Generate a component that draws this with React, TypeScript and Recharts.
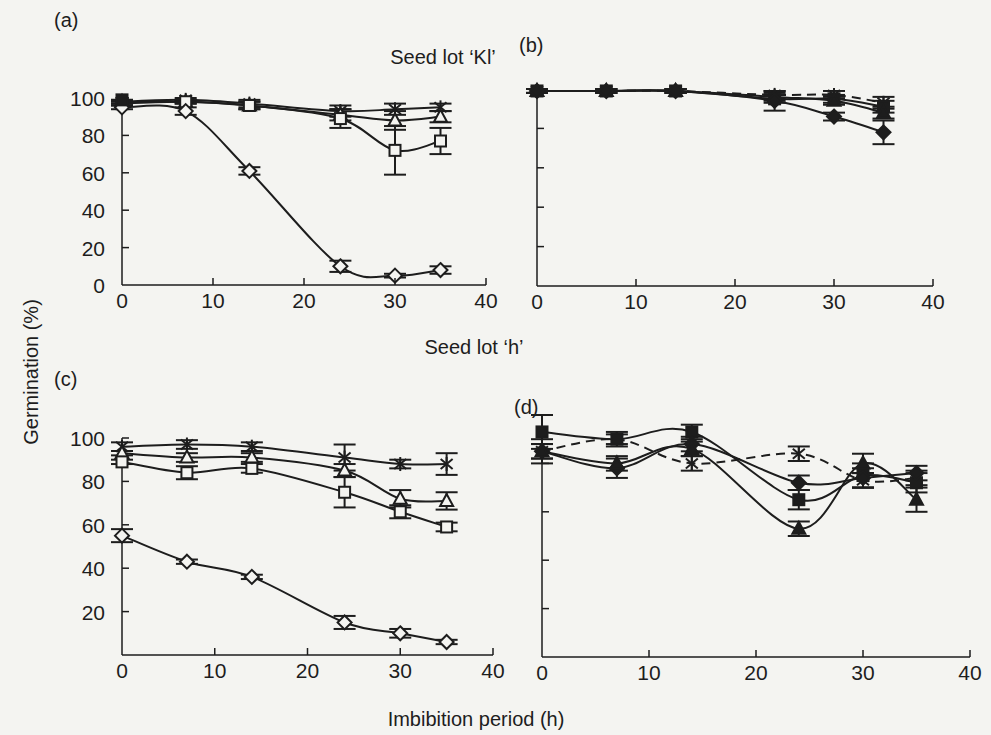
import { LineChart, Line, XAxis, YAxis, ErrorBar } from "recharts";

// Imbibition period (h) at which germination was scored
const HOURS = [0, 7, 14, 24, 30, 35];
const X_TICKS = [0, 10, 20, 30, 40];
const Y_TICKS = [0, 20, 40, 60, 80, 100];

// (a) seed lot 'Kl', open symbols
const A_CONTROL = [99, null, null, null, null, null];
const A_STAR = [98, 99, 97, 93, 94, 95];
const A_STAR_ERR = [1, 1, 2, 3, 3, 2];
const A_TRI = [98, 98, 96, 91, 88, 90];
const A_TRI_ERR = [1, 1, 2, 3, 5, 3];
const A_SQ = [97, 98, 96, 89, 72, 77];
const A_SQ_ERR = [1, 1, 2, 5, 13, 7];
const A_DIA = [95, 93, 61, 10, 5, 8];
const A_DIA_ERR = [1, 2, 2, 3, 1, 2];

// (b) seed lot 'Kl', filled symbols
const B_STAR = [99, 99, 99, 97, 97, 93];
const B_STAR_ERR = [1, 1, 1, 2, 2, 3];
const B_SQ = [99, 99, 99, 95, 95, 91];
const B_SQ_ERR = [1, 1, 1, 2, 2, 3];
const B_TRI = [99, 99, 99, 96, 94, 88];
const B_TRI_ERR = [1, 1, 1, 2, 2, 3];
const B_DIA = [99, 99, 99, 94, 86, 78];
const B_DIA_ERR = [1, 1, 1, 5, 2, 6];

// (c) seed lot 'h', open symbols
const C_STAR = [96, 97, 96, 91, 88, 88];
const C_STAR_ERR = [2, 2, 2, 6, 2, 5];
const C_TRI = [93, 91, 91, 85, 72, 71];
const C_TRI_ERR = [1, 2, 2, 3, 4, 4];
const C_SQ = [89, 84, 86, 75, 66, 59];
const C_SQ_ERR = [1, 3, 2, 7, 3, 2];
const C_DIA = [55, 43, 36, 15, 10, 6];
const C_DIA_ERR = [3, 1, 1, 3, 2, 1];

// (d) seed lot 'h', filled symbols
const D_SQ = [93, 90, 93, 65, 75, 72];
const D_SQ_ERR = [7, 3, 3, 4, 5, 4];
const D_DIA = [85, 78, 88, 72, 74, 76];
const D_DIA_ERR = [3, 4, 3, 3, 4, 3];
const D_TRI = [85, 80, 86, 53, 80, 65];
const D_TRI_ERR = [3, 3, 3, 3, 4, 5];
const D_STAR = [85, 90, 80, 84, 73, 74];
const D_STAR_ERR = [5, 2, 3, 3, 3, 3];

const INK = "#1d1d1d";
const PAPER = "#f4f4f1";
const FONT = "'Liberation Sans', Arial, Helvetica, sans-serif";

type Shape = "square" | "triangle" | "star" | "diamond";

type Series = {
  values: (number | null)[];
  errors?: number[];
  shape: Shape;
  filled: boolean;
  dashed?: boolean;
};

// spreadsheet-style smoothed line (Catmull-Rom through every point)
function smoothCurve(context: any) {
  let pts: [number, number][] = [];
  return {
    areaStart() {},
    areaEnd() {},
    lineStart() {
      pts = [];
    },
    point(x: number, y: number) {
      pts.push([x, y]);
    },
    lineEnd() {
      if (!pts.length) return;
      context.moveTo(pts[0][0], pts[0][1]);
      const t = 1 / 6;
      for (let i = 0; i < pts.length - 1; i++) {
        const p0 = pts[i - 1] || pts[i];
        const p1 = pts[i];
        const p2 = pts[i + 1];
        const p3 = pts[i + 2] || p2;
        context.bezierCurveTo(
          p1[0] + (p2[0] - p0[0]) * t,
          p1[1] + (p2[1] - p0[1]) * t,
          p2[0] - (p3[0] - p1[0]) * t,
          p2[1] - (p3[1] - p1[1]) * t,
          p2[0],
          p2[1]
        );
      }
    },
  };
}

function buildRows(series: Series[]) {
  return HOURS.map((h, i) => {
    const row: Record<string, number | null> = { h };
    series.forEach((s, k) => {
      row[`v${k}`] = s.values[i];
      row[`e${k}`] = s.errors ? s.errors[i] : null;
    });
    return row;
  });
}

function Marker({ cx, cy, shape, filled }: { cx: number; cy: number; shape: Shape; filled: boolean }) {
  const fill = filled ? INK : PAPER;
  const common = { stroke: INK, strokeWidth: 2, fill };
  if (shape === "square") {
    return <rect x={cx - 5.5} y={cy - 5.5} width={11} height={11} {...common} />;
  }
  if (shape === "triangle") {
    return <polygon points={`${cx},${cy - 7} ${cx + 6.5},${cy + 5} ${cx - 6.5},${cy + 5}`} {...common} />;
  }
  if (shape === "diamond") {
    return <polygon points={`${cx},${cy - 7} ${cx + 7},${cy} ${cx},${cy + 7} ${cx - 7},${cy}`} {...common} />;
  }
  return (
    <g stroke={INK} strokeWidth={2}>
      <line x1={cx} y1={cy - 7} x2={cx} y2={cy + 7} />
      <line x1={cx - 6} y1={cy - 5} x2={cx + 6} y2={cy + 5} />
      <line x1={cx - 6} y1={cy + 5} x2={cx + 6} y2={cy - 5} />
    </g>
  );
}

function XTick(props: any) {
  const { x, y, payload } = props;
  return (
    <g>
      {payload.value !== 0 && <line x1={x} y1={y} x2={x} y2={y - 7} stroke={INK} strokeWidth={1.5} />}
      <text x={x} y={y + 23} textAnchor="middle" fontSize={21} fontFamily={FONT} fill={INK}>
        {payload.value}
      </text>
    </g>
  );
}

function makeYTick(labels: number[]) {
  return function YTick(props: any) {
    const { x, y, payload } = props;
    return (
      <g>
        {payload.value !== 0 && <line x1={x} y1={y} x2={x + 7} y2={y} stroke={INK} strokeWidth={1.5} />}
        {labels.includes(payload.value) && (
          <text x={x - 17} y={y + 8} textAnchor="end" fontSize={21} fontFamily={FONT} fill={INK}>
            {payload.value}
          </text>
        )}
      </g>
    );
  };
}

const ML = 70;
const MT = 20;
const MR = 20;
const MB = 45;

function Panel({
  left,
  top,
  plotW,
  plotH,
  series,
  yLabels,
}: {
  left: number;
  top: number;
  plotW: number;
  plotH: number;
  series: Series[];
  yLabels: number[];
}) {
  const rows = buildRows(series);
  const YTick = makeYTick(yLabels);
  return (
    <div style={{ position: "absolute", left: left - ML, top: top - MT }}>
      <LineChart
        width={plotW + ML + MR}
        height={plotH + MT + MB}
        data={rows}
        margin={{ top: MT, right: MR, bottom: 0, left: 0 }}
      >
        <XAxis
          dataKey="h"
          type="number"
          domain={[0, 40]}
          ticks={X_TICKS}
          interval={0}
          height={MB}
          tickSize={0}
          tickMargin={0}
          tickLine={false}
          axisLine={{ stroke: INK, strokeWidth: 1.5 }}
          tick={(p: any) => <XTick {...p} />}
        />
        <YAxis
          type="number"
          domain={[0, 100]}
          ticks={Y_TICKS}
          interval={0}
          width={ML}
          tickSize={0}
          tickMargin={0}
          tickLine={false}
          axisLine={{ stroke: INK, strokeWidth: 1.5 }}
          tick={(p: any) => <YTick {...p} />}
        />
        {series.map((s, k) => (
          <Line
            key={k}
            dataKey={`v${k}`}
            type={smoothCurve as any}
            stroke={INK}
            strokeWidth={2}
            strokeDasharray={s.dashed ? "9 6" : undefined}
            isAnimationActive={false}
            activeDot={false}
            dot={(p: any) =>
              p.value == null || p.cy == null ? (
                <g key={`d${k}-${p.index}`} />
              ) : (
                <g key={`d${k}-${p.index}`}>
                  <Marker cx={p.cx} cy={p.cy} shape={s.shape} filled={s.filled} />
                </g>
              )
            }
          >
            {s.errors && (
              <ErrorBar dataKey={`e${k}`} direction="y" width={11} stroke={INK} strokeWidth={2} />
            )}
          </Line>
        ))}
      </LineChart>
    </div>
  );
}

const PANEL_A: Series[] = [
  { values: A_STAR, errors: A_STAR_ERR, shape: "star", filled: false },
  { values: A_TRI, errors: A_TRI_ERR, shape: "triangle", filled: false },
  { values: A_SQ, errors: A_SQ_ERR, shape: "square", filled: false },
  { values: A_DIA, errors: A_DIA_ERR, shape: "diamond", filled: false },
  { values: A_CONTROL, shape: "square", filled: true },
];

const PANEL_B: Series[] = [
  { values: B_STAR, errors: B_STAR_ERR, shape: "star", filled: true, dashed: true },
  { values: B_SQ, errors: B_SQ_ERR, shape: "square", filled: true },
  { values: B_TRI, errors: B_TRI_ERR, shape: "triangle", filled: true },
  { values: B_DIA, errors: B_DIA_ERR, shape: "diamond", filled: true },
];

const PANEL_C: Series[] = [
  { values: C_STAR, errors: C_STAR_ERR, shape: "star", filled: false },
  { values: C_TRI, errors: C_TRI_ERR, shape: "triangle", filled: false },
  { values: C_SQ, errors: C_SQ_ERR, shape: "square", filled: false },
  { values: C_DIA, errors: C_DIA_ERR, shape: "diamond", filled: false },
];

const PANEL_D: Series[] = [
  { values: D_STAR, errors: D_STAR_ERR, shape: "star", filled: false, dashed: true },
  { values: D_SQ, errors: D_SQ_ERR, shape: "square", filled: true },
  { values: D_DIA, errors: D_DIA_ERR, shape: "diamond", filled: true },
  { values: D_TRI, errors: D_TRI_ERR, shape: "triangle", filled: true },
];

export default function App() {
  const txt = { fontFamily: FONT, fontSize: 20, fill: INK };
  return (
    <div
      style={{
        position: "absolute",
        left: 0,
        top: 0,
        width: 991,
        height: 735,
        background: PAPER,
        overflow: "hidden",
      }}
    >
      <Panel left={122} top={98} plotW={364} plotH={187} series={PANEL_A} yLabels={[0, 20, 40, 60, 80, 100]} />
      <Panel left={537} top={89} plotW={396} plotH={197} series={PANEL_B} yLabels={[]} />
      <Panel left={122} top={438} plotW={371} plotH={217} series={PANEL_C} yLabels={[20, 40, 60, 80, 100]} />
      <Panel left={542} top={415} plotW={428} plotH={242} series={PANEL_D} yLabels={[]} />
      <svg width={991} height={735} style={{ position: "absolute", left: 0, top: 0, pointerEvents: "none" }}>
        <text x={54} y={27} {...txt}>(a)</text>
        <text x={519} y={52} {...txt}>(b)</text>
        <text x={443} y={64} textAnchor="middle" {...txt}>Seed lot ‘Kl’</text>
        <text x={474} y={354} textAnchor="middle" {...txt}>Seed lot ‘h’</text>
        <text x={54} y={386} {...txt}>(c)</text>
        <text x={514} y={414} {...txt}>(d)</text>
        <text x={38} y={372} textAnchor="middle" transform="rotate(-90, 38, 372)" {...txt}>
          Germination (%)
        </text>
        <text x={476} y={726} textAnchor="middle" {...txt}>Imbibition period (h)</text>
      </svg>
    </div>
  );
}
